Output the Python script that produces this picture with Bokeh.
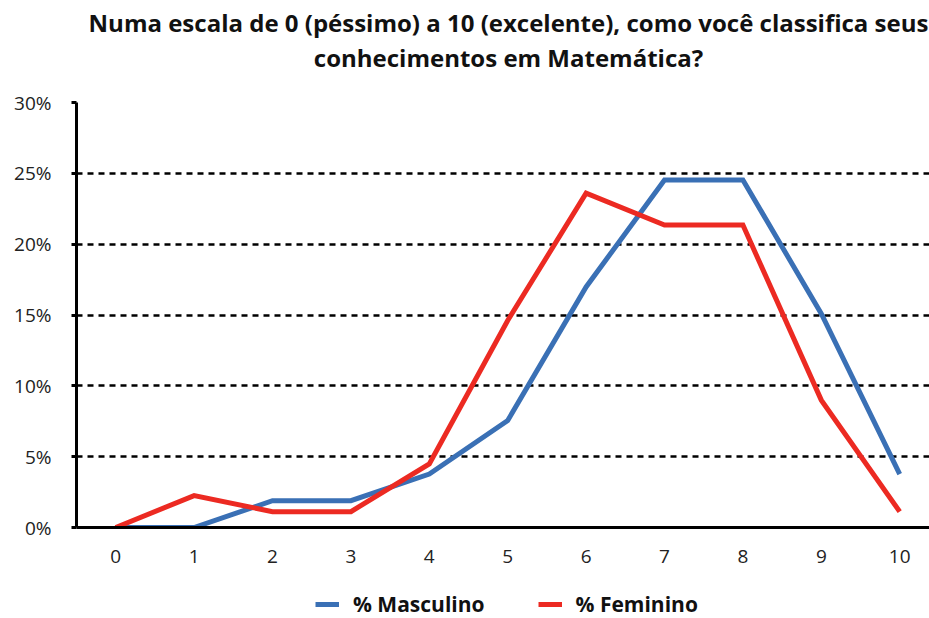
from bokeh.plotting import figure
from bokeh.layouts import column
from bokeh.models import FixedTicker, Legend, LegendItem, CustomJSTickFormatter, Range1d, Label
from bokeh.embed import file_html
from bokeh.resources import INLINE

scores = [0, 1, 2, 3, 4, 5, 6, 7, 8, 9, 10]
masculino = [0.0, 0.0, 1.89, 1.89, 3.77, 7.55, 16.98, 24.53, 24.53, 15.09, 3.77]
feminino = [0.0, 2.25, 1.12, 1.12, 4.49, 14.61, 23.60, 21.35, 21.35, 8.99, 1.12]
y_ticks = [0, 5, 10, 15, 20, 25, 30]
title_lines = ["Numa escala de 0 (péssimo) a 10 (excelente), como você classifica seus",
               "conhecimentos em Matemática?"]
series_names = ["% Masculino", "% Feminino"]

FONT = "Open Sans"
BLUE = "#3A70B5"
RED = "#EC2A22"

# ---- title block (frame is aligned with the main chart's frame, left at 76px) ----
t = figure(width=929, height=76, output_backend="svg", toolbar_location=None,
           x_axis_type=None, y_axis_type=None, min_border=0)
t.outline_line_color = None
t.grid.visible = False
for txt, yy in zip(title_lines, [54, 19]):
    t.add_layout(Label(x=432, y=yy, x_units="screen", y_units="screen", text=txt,
                       text_align="center", text_baseline="middle",
                       text_font=FONT, text_font_style="bold", text_font_size="24px",
                       text_color="#111111"))

# ---- main chart ----
p = figure(width=929, height=512, output_backend="svg", toolbar_location=None,
           x_range=Range1d(-0.5, 10.38), y_range=Range1d(0, 30),
           min_border_left=76, min_border_right=0, min_border_top=26, min_border_bottom=61)
p.outline_line_color = None

p.xaxis.ticker = FixedTicker(ticks=scores)
p.xaxis.major_tick_line_color = None
p.xaxis.minor_tick_line_color = None
p.xaxis.axis_line_width = 3
p.xaxis.axis_line_color = "black"
p.xaxis.major_label_text_font = FONT
p.xaxis.major_label_text_font_size = "19px"
p.xaxis.major_label_text_color = "#222222"
p.xaxis.major_label_standoff = 16

p.yaxis.ticker = FixedTicker(ticks=y_ticks)
p.yaxis.formatter = CustomJSTickFormatter(code="return tick.toFixed(0) + '%';")
p.yaxis.minor_tick_line_color = None
p.yaxis.major_tick_in = 0
p.yaxis.major_tick_out = 5
p.yaxis.major_tick_line_width = 3
p.yaxis.axis_line_width = 3
p.yaxis.axis_line_color = "black"
p.yaxis.major_label_text_font = FONT
p.yaxis.major_label_text_font_size = "19px"
p.yaxis.major_label_text_color = "#222222"
p.yaxis.major_label_standoff = 20

p.xgrid.grid_line_color = None
p.ygrid.ticker = FixedTicker(ticks=[5, 10, 15, 20, 25, 30])
p.ygrid.grid_line_color = "black"
p.ygrid.grid_line_width = 2.5
p.ygrid.grid_line_dash = "6 5"

p.line(scores, masculino, line_color=BLUE, line_width=5, line_join="miter")
p.line(scores, feminino, line_color=RED, line_width=5, line_join="miter")

# ---- legend strip (same series, plotted out of view so only the key shows) ----
lg = figure(width=929, height=30, output_backend="svg", toolbar_location=None,
            x_axis_type=None, y_axis_type=None, min_border=0,
            x_range=Range1d(100, 101), y_range=Range1d(100, 101))
lg.outline_line_color = None
lg.grid.visible = False
lm = lg.line(scores, masculino, line_color=BLUE, line_width=5)
lf = lg.line(scores, feminino, line_color=RED, line_width=5)
legend = Legend(items=[LegendItem(label=series_names[0], renderers=[lm]),
                       LegendItem(label=series_names[1], renderers=[lf])],
                orientation="horizontal", location=(239, 0),
                label_text_font=FONT, label_text_font_style="bold",
                label_text_font_size="21px", label_text_color="#111111",
                glyph_width=24, label_standoff=14, spacing=53,
                border_line_color=None, background_fill_alpha=0,
                margin=0, padding=0)
lg.add_layout(legend, "center")

layout = column(t, p, lg, spacing=0)
open("out.html", "w").write(file_html(layout, INLINE))
